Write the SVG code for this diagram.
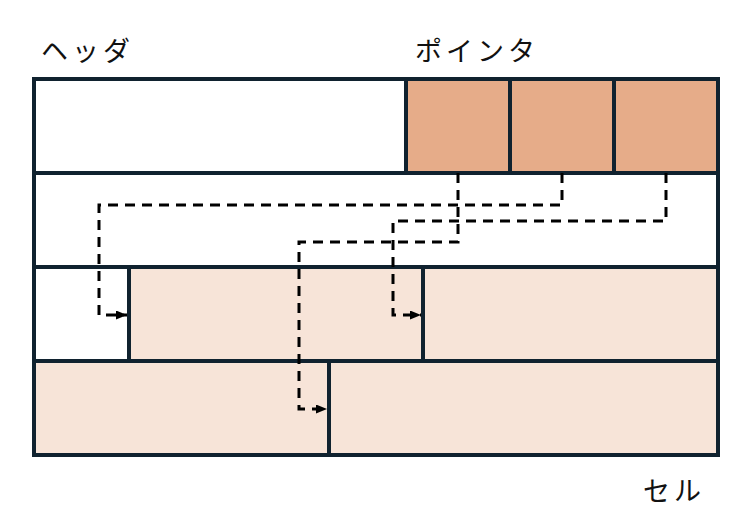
<svg xmlns="http://www.w3.org/2000/svg" width="742" height="522" viewBox="0 0 742 522">
<style>
.lbl{font-family:"Noto Sans CJK JP","Noto Sans CJK SC",sans-serif;font-size:27px;letter-spacing:4px;fill:#111}
.c{stroke:#10222f;stroke-width:4}
.w{fill:#ffffff}
.p{fill:#e6ac89}
.s{fill:#f7e4d8}
.con{fill:none;stroke:#000;stroke-width:3;stroke-dasharray:10 7}
</style>
<defs>
<marker id="ah" markerUnits="userSpaceOnUse" markerWidth="12" markerHeight="10" refX="11" refY="4.5" orient="auto">
<path d="M0,0 L11,4.5 L0,9 z" fill="#000"/>
</marker>
</defs>
<rect x="0" y="0" width="742" height="522" fill="#ffffff"/>
<g id="header"><rect class="c w" x="34" y="79" width="372" height="94"/></g>
<g id="ptr1"><rect class="c p" x="406" y="79" width="104" height="94"/></g>
<g id="ptr2"><rect class="c p" x="510" y="79" width="104" height="94"/></g>
<g id="ptr3"><rect class="c p" x="614" y="79" width="104" height="94"/></g>
<g id="free1"><rect class="c w" x="34" y="173" width="684" height="94"/></g>
<g id="free2"><rect class="c w" x="34" y="267" width="95" height="94"/></g>
<g id="cell1"><rect class="c s" x="129" y="267" width="294" height="94"/></g>
<g id="cell2"><rect class="c s" x="423" y="267" width="295" height="94"/></g>
<g id="cell3"><rect class="c s" x="34" y="361" width="295" height="94"/></g>
<g id="cell4"><rect class="c s" x="329" y="361" width="389" height="94"/></g>
<g id="connectors">
<path class="con" d="M458,173 V242 H299 V409 H327" marker-end="url(#ah)"/>
<path class="con" d="M562,173 V205 H99 V315 H127" marker-end="url(#ah)"/>
<path class="con" d="M666,173 V221 H393 V315 H421" marker-end="url(#ah)"/>
</g>
<text class="lbl" x="41" y="61">ヘッダ</text>
<text class="lbl" x="415" y="61">ポインタ</text>
<text class="lbl" x="643" y="501">セル</text>
</svg>
